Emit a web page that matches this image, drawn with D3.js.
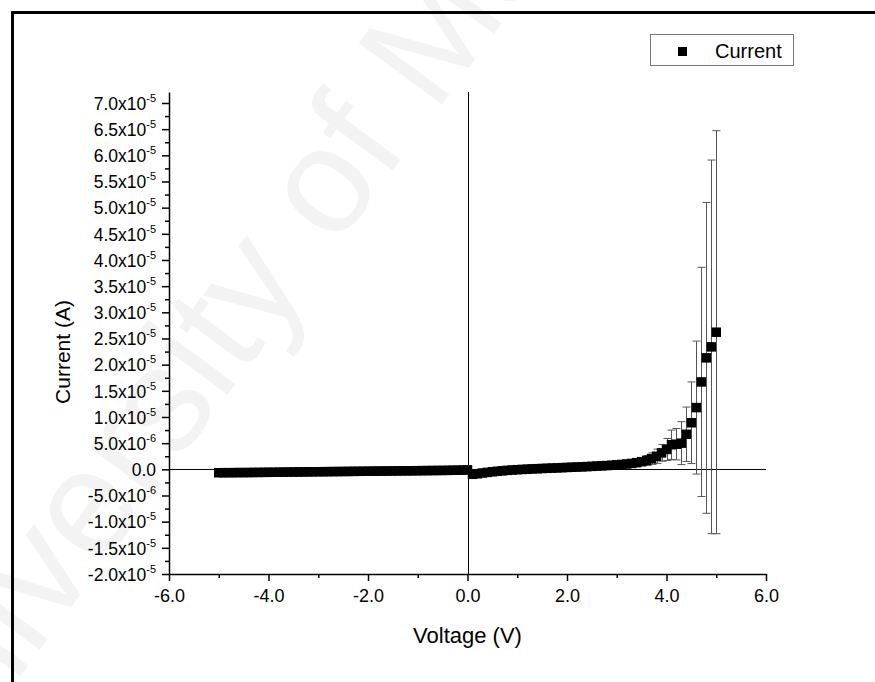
<!DOCTYPE html>
<html>
<head>
<meta charset="utf-8">
<script src="https://cdn.jsdelivr.net/npm/d3@7"></script>
<style>
  body { margin: 0; background: #fff; }
  text { font-family: Arial, "Liberation Sans", sans-serif; }
</style>
</head>
<body>
<div class="chart"></div>
<script>
const width = 875;
const height = 682;

// voltage sweep (V)
const voltage = [
  -5.0, -4.9, -4.8, -4.7, -4.6, -4.5, -4.4, -4.3, -4.2, -4.1,
  -4.0, -3.9, -3.8, -3.7, -3.6, -3.5, -3.4, -3.3, -3.2, -3.1,
  -3.0, -2.9, -2.8, -2.7, -2.6, -2.5, -2.4, -2.3, -2.2, -2.1,
  -2.0, -1.9, -1.8, -1.7, -1.6, -1.5, -1.4, -1.3, -1.2, -1.1,
  -1.0, -0.9, -0.8, -0.7, -0.6, -0.5, -0.4, -0.3, -0.2, -0.1,
  0.0,
  0.1, 0.2, 0.3, 0.4, 0.5, 0.6, 0.7, 0.8, 0.9, 1.0,
  1.1, 1.2, 1.3, 1.4, 1.5, 1.6, 1.7, 1.8, 1.9, 2.0,
  2.1, 2.2, 2.3, 2.4, 2.5, 2.6, 2.7, 2.8, 2.9, 3.0,
  3.1, 3.2, 3.3, 3.4, 3.5, 3.6, 3.7, 3.8, 3.9, 4.0,
  4.1, 4.2, 4.3, 4.4, 4.5, 4.6, 4.7, 4.8, 4.9, 5.0
];

// current, in units of 1e-5 A
const current = [
  -0.065, -0.064, -0.064, -0.063, -0.062, -0.062, -0.061, -0.060, -0.059, -0.058,
  -0.057, -0.056, -0.055, -0.053, -0.052, -0.051, -0.050, -0.049, -0.048, -0.047,
  -0.046, -0.045, -0.044, -0.043, -0.042, -0.041, -0.040, -0.039, -0.038, -0.037,
  -0.036, -0.035, -0.034, -0.033, -0.032, -0.031, -0.030, -0.029, -0.028, -0.027,
  -0.026, -0.025, -0.024, -0.023, -0.022, -0.021, -0.020, -0.018, -0.016, -0.014,
  -0.010,
  -0.095, -0.085, -0.070, -0.058, -0.047, -0.037, -0.028, -0.020, -0.013, -0.007,
  -0.002, 0.003, 0.008, 0.012, 0.016, 0.020, 0.024, 0.028, 0.032, 0.036,
  0.040, 0.044, 0.048, 0.052, 0.057, 0.062, 0.067, 0.072, 0.078, 0.085,
  0.093, 0.102, 0.113, 0.127, 0.145, 0.170, 0.205, 0.250, 0.315, 0.380,
  0.470, 0.480, 0.500, 0.670, 0.890, 1.180, 1.670, 2.130, 2.340, 2.620
];

// error bar half-length, in units of 1e-5 A
const currentErr = [
  0.006, 0.006, 0.006, 0.005, 0.006, 0.005, 0.005, 0.005, 0.005, 0.005,
  0.005, 0.005, 0.004, 0.005, 0.004, 0.004, 0.004, 0.004, 0.004, 0.004,
  0.004, 0.004, 0.004, 0.003, 0.003, 0.003, 0.003, 0.003, 0.003, 0.003,
  0.003, 0.003, 0.003, 0.003, 0.003, 0.003, 0.003, 0.002, 0.002, 0.002,
  0.002, 0.002, 0.002, 0.002, 0.002, 0.002, 0.002, 0.002, 0.002, 0.002,
  0.002,
  0.008, 0.008, 0.007, 0.007, 0.007, 0.006, 0.006, 0.006, 0.006, 0.006,
  0.006, 0.006, 0.006, 0.006, 0.007, 0.007, 0.007, 0.007, 0.008, 0.008,
  0.008, 0.009, 0.009, 0.010, 0.010, 0.011, 0.012, 0.013, 0.015, 0.018,
  0.022, 0.028, 0.034, 0.042, 0.055, 0.095, 0.110, 0.135, 0.160, 0.210,
  0.280, 0.300, 0.410, 0.520, 0.780, 1.270, 2.190, 2.970, 3.570, 3.850
];

const xTicks = [-6, -4, -2, 0, 2, 4, 6];
const xTickLabels = ['-6.0', '-4.0', '-2.0', '0.0', '2.0', '4.0', '6.0'];
const xMinorTicks = [-5, -3, -1, 1, 3, 5];

const yTicks = [-2, -1.5, -1, -0.5, 0, 0.5, 1, 1.5, 2, 2.5, 3, 3.5, 4, 4.5, 5, 5.5, 6, 6.5, 7];
const yTickMantissa = ['-2.0x10', '-1.5x10', '-1.0x10', '-5.0x10', '0.0', '5.0x10', '1.0x10', '1.5x10', '2.0x10',
  '2.5x10', '3.0x10', '3.5x10', '4.0x10', '4.5x10', '5.0x10', '5.5x10', '6.0x10', '6.5x10', '7.0x10'];
const yTickExponent = ['-5', '-5', '-5', '-6', '', '-6', '-5', '-5', '-5',
  '-5', '-5', '-5', '-5', '-5', '-5', '-5', '-5', '-5', '-5'];
const yMinorTicks = [-1.75, -1.25, -0.75, -0.25, 0.25, 0.75, 1.25, 1.75, 2.25, 2.75, 3.25, 3.75,
  4.25, 4.75, 5.25, 5.75, 6.25, 6.75];

const seriesName = 'Current';
const xTitle = 'Voltage (V)';
const yTitle = 'Current (A)';
const watermark = 'University of Malaya';

const svg = d3.select('.chart')
  .append('svg')
    .attr('width', width)
    .attr('height', height)
    .attr('viewBox', [0, 0, width, height]);

// faint watermark behind everything
svg.append('text')
  .text(watermark)
  .attr('transform', 'translate(-80, 812) rotate(-53.6)')
  .attr('font-size', 150)
  .attr('fill', '#f3f3f3');

// page frame (top and left edges only)
svg.append('path')
  .attr('d', 'M12.5,682V12.5H875')
  .attr('fill', 'none')
  .attr('stroke', '#000')
  .attr('stroke-width', 3);

const x = d3.scaleLinear().domain([-6, 6]).range([169, 766]);
const y = d3.scaleLinear().domain([-2, 7.21]).range([574, 92]);

// zero lines
svg.append('line')
  .attr('x1', x(-6)).attr('x2', x(6))
  .attr('y1', Math.round(y(0)) + 0.5).attr('y2', Math.round(y(0)) + 0.5)
  .attr('stroke', '#000');
svg.append('line')
  .attr('x1', Math.round(x(0)) + 0.5).attr('x2', Math.round(x(0)) + 0.5)
  .attr('y1', y(7.21)).attr('y2', y(-2))
  .attr('stroke', '#000');

// x axis
const xMinor = svg.append('g')
  .attr('transform', `translate(0, ${y(-2)})`)
  .call(d3.axisBottom(x).tickValues(xMinorTicks).tickSize(4).tickSizeOuter(0).tickFormat(''));
xMinor.select('.domain').remove();

const xAxis = svg.append('g')
  .attr('transform', `translate(0, ${y(-2)})`)
  .call(d3.axisBottom(x).tickValues(xTicks).tickSize(7).tickSizeOuter(0).tickPadding(8)
    .tickFormat((d, i) => xTickLabels[i]));
xAxis.selectAll('text')
  .attr('font-size', 18)
  .attr('font-family', 'Arial, "Liberation Sans", sans-serif')
  .attr('fill', '#000');

// y axis
const yMinor = svg.append('g')
  .attr('transform', `translate(${x(-6)}, 0)`)
  .call(d3.axisLeft(y).tickValues(yMinorTicks).tickSize(4).tickSizeOuter(0).tickFormat(''));
yMinor.select('.domain').remove();

const yAxis = svg.append('g')
  .attr('transform', `translate(${x(-6)}, 0)`)
  .call(d3.axisLeft(y).tickValues(yTicks).tickSize(7).tickSizeOuter(0).tickPadding(6)
    .tickFormat((d, i) => yTickMantissa[i]));
yAxis.selectAll('text')
  .attr('font-size', 17.5)
  .attr('font-family', 'Arial, "Liberation Sans", sans-serif')
  .attr('fill', '#000')
  .attr('dy', '0.36em')
  .each(function(d, i) {
    if (yTickExponent[i]) {
      d3.select(this).append('tspan')
        .text(yTickExponent[i])
        .attr('font-size', 11)
        .attr('dy', -8);
    }
  });

svg.selectAll('.domain, .tick line')
  .attr('stroke', '#000')
  .attr('stroke-width', 1.5);

// axis titles
svg.append('text')
  .text(xTitle)
  .attr('x', x(0))
  .attr('y', 643)
  .attr('text-anchor', 'middle')
  .attr('font-size', 22);

svg.append('text')
  .text(yTitle)
  .attr('transform', `translate(70, 352) rotate(-90)`)
  .attr('text-anchor', 'middle')
  .attr('font-size', 21);

// data
const data = voltage.map((v, i) => ({v: v, c: current[i], e: currentErr[i]}));
const capHalf = 4;
const markSize = 9.5;

svg.append('g')
  .attr('stroke', '#555')
  .attr('stroke-width', 1)
  .selectAll('path')
  .data(data)
  .join('path')
    .attr('fill', 'none')
    .attr('d', d => {
      const cx = Math.round(x(d.v)) + 0.5;
      const y1 = y(d.c + d.e);
      const y2 = y(d.c - d.e);
      return `M${cx - capHalf},${y1}H${cx + capHalf}M${cx},${y1}V${y2}M${cx - capHalf},${y2}H${cx + capHalf}`;
    });

svg.append('g')
  .selectAll('rect')
  .data(data)
  .join('rect')
    .attr('x', d => x(d.v) - markSize / 2)
    .attr('y', d => y(d.c) - markSize / 2)
    .attr('width', markSize)
    .attr('height', markSize)
    .attr('fill', '#000');

// legend
const legend = svg.append('g');
legend.append('rect')
  .attr('x', 650.5)
  .attr('y', 34.5)
  .attr('width', 143)
  .attr('height', 31)
  .attr('fill', '#fff')
  .attr('stroke', '#777');
legend.append('rect')
  .attr('x', 678)
  .attr('y', 47)
  .attr('width', 9)
  .attr('height', 9)
  .attr('fill', '#000');
legend.append('text')
  .text(seriesName)
  .attr('x', 715)
  .attr('y', 58)
  .attr('font-size', 20);
</script>
</body>
</html>
